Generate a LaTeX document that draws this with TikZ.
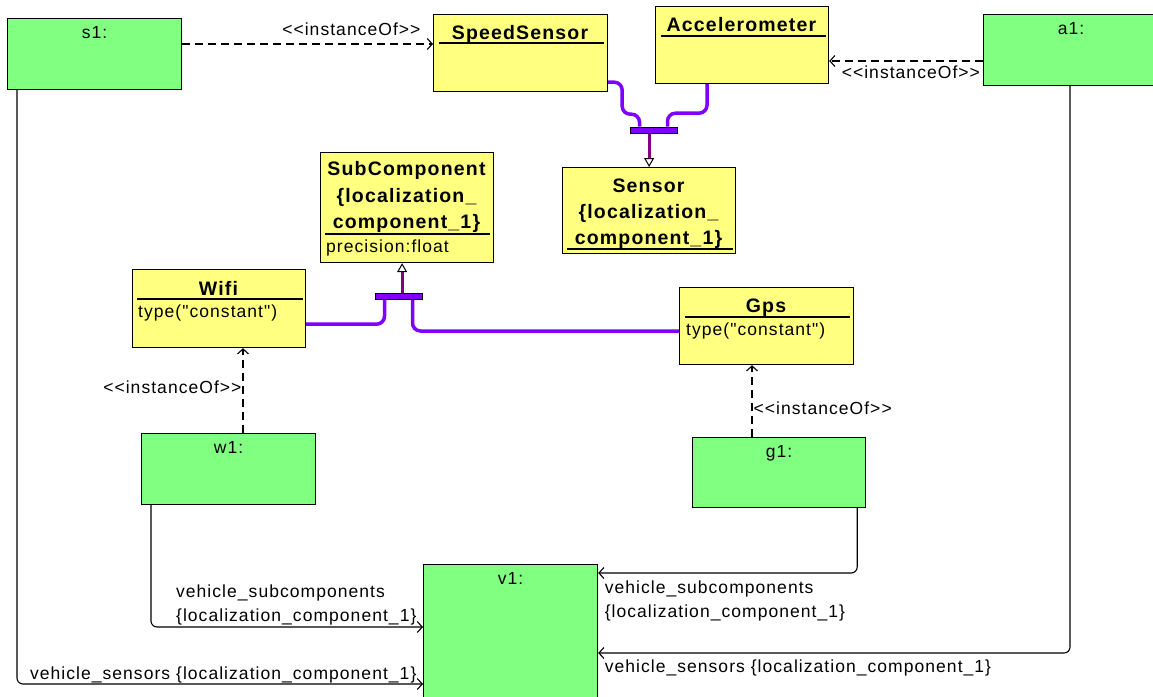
\documentclass[tikz,border=0pt]{standalone}
\usepackage{fontspec}
\setmainfont{Liberation Sans}
\newfontfamily\umlfont[Ligatures=TeXOff, LetterSpace=6]{Liberation Sans}
\usetikzlibrary{arrows.meta}
\definecolor{objgreen}{HTML}{80FF80}
\definecolor{clsyellow}{HTML}{FFFF80}
\definecolor{genviolet}{HTML}{8000FF}
\definecolor{genstub}{HTML}{800080}

\begin{document}
\begin{tikzpicture}
    [
        x = 1pt, y = -1pt,
        every node/.style = {font = \umlfont\fontsize{17.5}{24}\selectfont, inner sep = 0pt},
        obj/.style = {draw, line width = 1.2pt, fill = objgreen, anchor = north west, minimum width = 174pt, text height = 20pt, text depth = 51pt},
        cls/.style = {draw, line width = 1.2pt, fill = clsyellow, anchor = north west},
        clstitle/.style = {anchor = base, font = \umlfont\bfseries\fontsize{19.5}{22}\selectfont},
        attr/.style = {anchor = base west},
        cline/.style = {line width = 1.2pt},
        inst/.style = {line width = 1.1pt, dash pattern = on 8pt off 5pt, -{Straight Barb[length = 5pt, width = 11pt]}},
        assoc/.style = {line width = 1.1pt, rounded corners = 6pt, -{Straight Barb[length = 5pt, width = 11pt]}},
        genline/.style = {line width = 3.5pt, genviolet, rounded corners = 8pt},
        genbar/.style = {draw, line width = 1pt, fill = genviolet, minimum width = 47pt, minimum height = 6pt},
        stub/.style = {line width = 3pt, genstub, -{Triangle[length = 9pt, width = 10pt, fill = white, color = black, line width = 1pt]}}
    ]
    \useasboundingbox (0,0) rectangle (1153,696);

    % classes
    \node[cls, minimum width = 174pt, minimum height = 77pt] (ss) at (433,14) {};
    \node[clstitle] (ssT) at (520,39) {SpeedSensor};
    \draw[cline] (439,43) -- (604,43);

    \node[cls, minimum width = 173pt, minimum height = 77pt] (acc) at (655,6) {};
    \node[clstitle] (accT) at (741.5,31) {Accelerometer};
    \draw[cline] (661,36) -- (826,36);

    \node[cls, minimum width = 173pt, minimum height = 86pt] (sen) at (562,167) {};
    \node[clstitle] (senT1) at (648.5,192) {Sensor};
    \node[clstitle] (senT2) at (648.5,218) {\{localization\_};
    \node[clstitle] (senT3) at (648.5,244) {component\_1\}};
    \draw[cline] (567,249) -- (733,249);

    \node[cls, minimum width = 173pt, minimum height = 110pt] (sub) at (320,152) {};
    \node[clstitle] (subT1) at (406.5,175) {SubComponent};
    \node[clstitle] (subT2) at (406.5,202) {\{localization\_};
    \node[clstitle] (subT3) at (406.5,228) {component\_1\}};
    \draw[cline] (325,234) -- (490,234);
    \node[attr] (subA) at (326,252) {precision:float};

    \node[cls, minimum width = 173pt, minimum height = 78pt] (wifi) at (132,269) {};
    \node[clstitle] (wifiT) at (218.5,295) {Wifi};
    \draw[cline] (137,299) -- (303,299);
    \node[attr] (wifiA) at (138,317) {type("constant")};

    \node[cls, minimum width = 174pt, minimum height = 77pt] (gps) at (679,287) {};
    \node[clstitle] (gpsT) at (766,312) {Gps};
    \draw[cline] (685,317) -- (850,317);
    \node[attr] (gpsA) at (686,335) {type("constant")};

    % objects
    \node[obj] (s1) at (7,18) {s1:};
    \node[obj, minimum width = 175pt] (a1) at (983,14) {a1:};
    \node[obj] (w1) at (141,433) {w1:};
    \node[obj, minimum width = 173pt, text depth = 50pt] (g1) at (692,437) {g1:};
    \node[obj, text depth = 120pt] (v1) at (423,564) {v1:};

    % generalization sets
    \coordinate (ssg) at ([yshift=10pt]ss.south east);
    \coordinate (accg) at ([xshift=52pt]acc.south west);
    \coordinate (wifig) at ([yshift=24pt]wifi.south east);
    \coordinate (gpsg) at ([yshift=-44pt]gps.north west);
    \coordinate (subg) at ([xshift=-5pt]sub.south);
    \node[genbar] (gs1) at (653.5,130) {};
    \node[genbar] (gs2) at (398.5,296) {};
    \draw[genline] (ssg) -- ++(14,0) -- ++(0,32) -| ([xshift=10pt]gs1.north west);
    \draw[genline] (accg) -- ++(0,29) -| ([xshift=38pt]gs1.north west);
    \draw[genline] (wifig) -| ([xshift=10pt]gs2.south west);
    \draw[genline] ([xshift=38pt]gs2.south west) |- (gpsg);
    \node[genbar] at (gs1) {};
    \node[genbar] at (gs2) {};
    \draw[stub] (sen.north |- gs1.south) -- (sen.north);
    \draw[stub] (subg |- gs2.north) -- (subg);

    % instanceOf
    \coordinate (s1o) at ([yshift=-26pt]s1.north east);
    \coordinate (a1o) at ([yshift=-47pt]a1.north west);
    \coordinate (w1o) at ([xshift=102pt]w1.north west);
    \coordinate (g1o) at ([xshift=60pt]g1.north west);
    \draw[inst] (s1o) -- (s1o -| ss.west)
        node[at end, anchor=base east, xshift=-12pt, yshift=9pt] {<<instanceOf>>};
    \draw[inst] (a1o) -- (a1o -| acc.east)
        node[at end, anchor=base west, xshift=12pt, yshift=-17pt] {<<instanceOf>>};
    \draw[inst] (w1o) -- (w1o |- wifi.south)
        node[pos=0.46, anchor=base east, xshift=-1pt] {<<instanceOf>>};
    \draw[inst] (g1o) -- (g1o |- gps.south)
        node[pos=0.315, anchor=base west, xshift=1pt] {<<instanceOf>>};

    % links
    \coordinate (w1b) at ([xshift=10pt]w1.south west);
    \coordinate (s1b) at ([xshift=10pt]s1.south west);
    \coordinate (g1b) at ([xshift=-9pt]g1.south east);
    \coordinate (a1b) at ([xshift=87pt]a1.south west);
    \coordinate (v1w1) at ([yshift=-63pt]v1.north west);
    \coordinate (v1s1) at ([yshift=-120pt]v1.north west);
    \coordinate (v1g1) at ([yshift=-9pt]v1.north east);
    \coordinate (v1a1) at ([yshift=-89pt]v1.north east);
    \draw[assoc] (w1b) |- (v1w1)
        node[at end, anchor=south east, align=left, xshift=-6pt, yshift=1pt] {vehicle\_subcomponents\\\{localization\_component\_1\}};
    \draw[assoc] (s1b) |- (v1s1)
        node[at end, anchor=base east, xshift=-6pt, yshift=5pt] {vehicle\_sensors \{localization\_component\_1\}};
    \draw[assoc] (g1b) |- (v1g1)
        node[at end, anchor=north west, align=left, xshift=6pt, yshift=-7pt] {vehicle\_subcomponents\\\{localization\_component\_1\}};
    \draw[assoc] (a1b) |- (v1a1)
        node[at end, anchor=base west, xshift=6pt, yshift=-19pt] {vehicle\_sensors \{localization\_component\_1\}};
\end{tikzpicture}
\end{document}
